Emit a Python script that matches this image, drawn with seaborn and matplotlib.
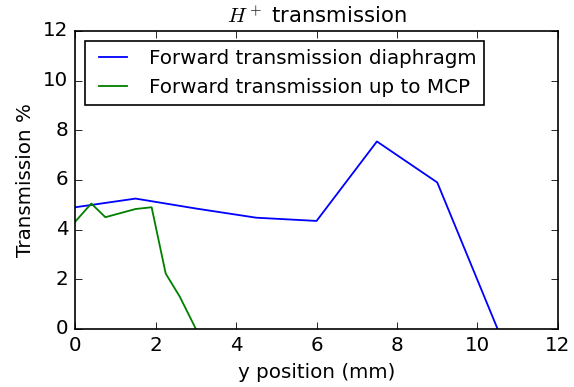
import matplotlib
matplotlib.use("Agg")
import matplotlib.pyplot as plt
import seaborn as sns
import pandas as pd

# forward transmission through the diaphragm
y_diaphragm = [0, 1.5, 3, 4.5, 6, 7.5, 9, 10.5]
t_diaphragm = [4.9, 5.25, 4.85, 4.48, 4.35, 7.55, 5.9, 0.0]

# forward transmission up to MCP
y_mcp = [0, 0.4, 0.75, 1.5, 1.9, 2.25, 2.6, 3.0]
t_mcp = [4.32, 5.05, 4.5, 4.83, 4.9, 2.23, 1.3, 0.0]

plt.style.use('classic')

df1 = pd.DataFrame({'y': y_diaphragm, 't': t_diaphragm})
df2 = pd.DataFrame({'y': y_mcp, 't': t_mcp})

DPI = 119
fig = plt.figure(figsize=(574 / DPI, 387 / DPI), dpi=DPI)
ax = fig.add_axes([0.131, 0.150, 0.841, 0.770])
sns.lineplot(data=df1, x='y', y='t', color='b', lw=1.1, label='Forward transmission diaphragm', ax=ax)
sns.lineplot(data=df2, x='y', y='t', color='g', lw=1.1, label='Forward transmission up to MCP', ax=ax)

ax.set_xlim(0, 12)
ax.set_ylim(0, 12)
ax.set_xlabel('y position (mm)')
ax.set_ylabel('Transmission %')
ax.set_title(r'$H^+$ transmission', fontsize=12.8)
ax.legend(loc='upper left', fontsize=12)

fig.savefig('out.png', dpi=DPI)
